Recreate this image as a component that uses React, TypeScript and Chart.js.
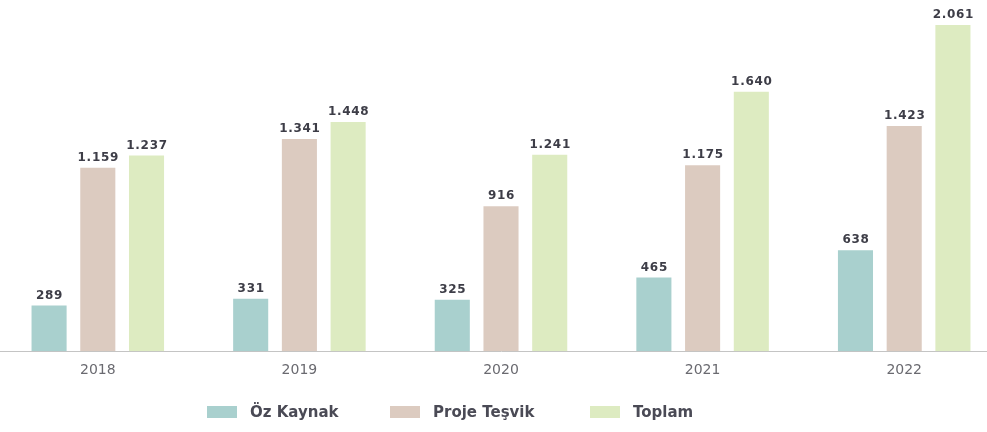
import React, { useEffect, useRef } from "react";
import { Chart, registerables } from "chart.js";

Chart.register(...registerables);

const years = ["2018", "2019", "2020", "2021", "2022"];
const ozKaynak = [289, 331, 325, 465, 638];
const projeTesvik = [1159, 1341, 916, 1175, 1423];
const toplam = [1237, 1448, 1241, 1640, 2061];
const seriesNames = ["Öz Kaynak", "Proje Teşvik", "Toplam"];
const seriesColors = ["#a9d0ce", "#dccbc0", "#ddebc1"];

const fmt = (v: number) => v.toLocaleString("de-DE");

const valueLabels = {
  id: "valueLabels",
  afterDatasetsDraw(chart: any) {
    const ctx = chart.ctx;
    ctx.save();
    ctx.font = "bold 12px 'DejaVu Sans', sans-serif";
    (ctx as any).letterSpacing = "0.7px";
    ctx.fillStyle = "#3d3d47";
    ctx.textAlign = "center";
    ctx.textBaseline = "bottom";
    chart.data.datasets.forEach((ds: any, i: number) => {
      const meta = chart.getDatasetMeta(i);
      meta.data.forEach((bar: any, j: number) => {
        ctx.fillText(fmt(ds.data[j]), bar.x + 0.5, bar.y - 4);
      });
    });
    ctx.restore();
  },
};

export default function App() {
  const ref = useRef<HTMLCanvasElement>(null);
  useEffect(() => {
    const chart = new Chart(ref.current!, {
      type: "bar",
      data: {
        labels: years,
        datasets: [ozKaynak, projeTesvik, toplam].map((d, i) => ({
          label: seriesNames[i],
          data: d,
          backgroundColor: seriesColors[i],
          borderWidth: 0,
          barPercentage: 0.72,
          categoryPercentage: 0.725,
        })),
      },
      options: {
        animation: false,
        responsive: false,
        maintainAspectRatio: false,
        layout: { padding: { top: 3, bottom: 50, left: 0, right: 0 } },
        plugins: {
          tooltip: { enabled: false },
          legend: { display: false },
        },
        scales: {
          x: {
            grid: { display: false },
            border: { display: true, color: "#c4c4c4", dash: [4, 4], width: 1 },
            ticks: {
              color: "#6a6a70",
              padding: 3,
              font: { family: "'DejaVu Sans', sans-serif", size: 14 },
            },
          },
          y: {
            display: false,
            min: 0,
            max: 2200,
          },
        },
      },
      plugins: [valueLabels],
    });
    return () => chart.destroy();
  }, []);
  const legendLefts = [210, 393, 593];
  return (
    <div style={{ position: "fixed", left: -3, top: 0, width: 1008, height: 432, background: "#fff" }}>
      <canvas ref={ref} width={1008} height={432} />
      {seriesNames.map((n, i) => (
        <div
          key={n}
          style={{
            position: "absolute",
            left: legendLefts[i],
            top: 402,
            display: "flex",
            alignItems: "center",
            fontFamily: "'DejaVu Sans', sans-serif",
            fontWeight: 700,
            fontSize: 15,
            color: "#4a4a55",
            lineHeight: "20px",
            whiteSpace: "nowrap",
          }}
        >
          <span style={{ display: "inline-block", width: 30, height: 12, background: seriesColors[i], marginRight: 13 }} />
          <span>{n}</span>
        </div>
      ))}
    </div>
  );
}
